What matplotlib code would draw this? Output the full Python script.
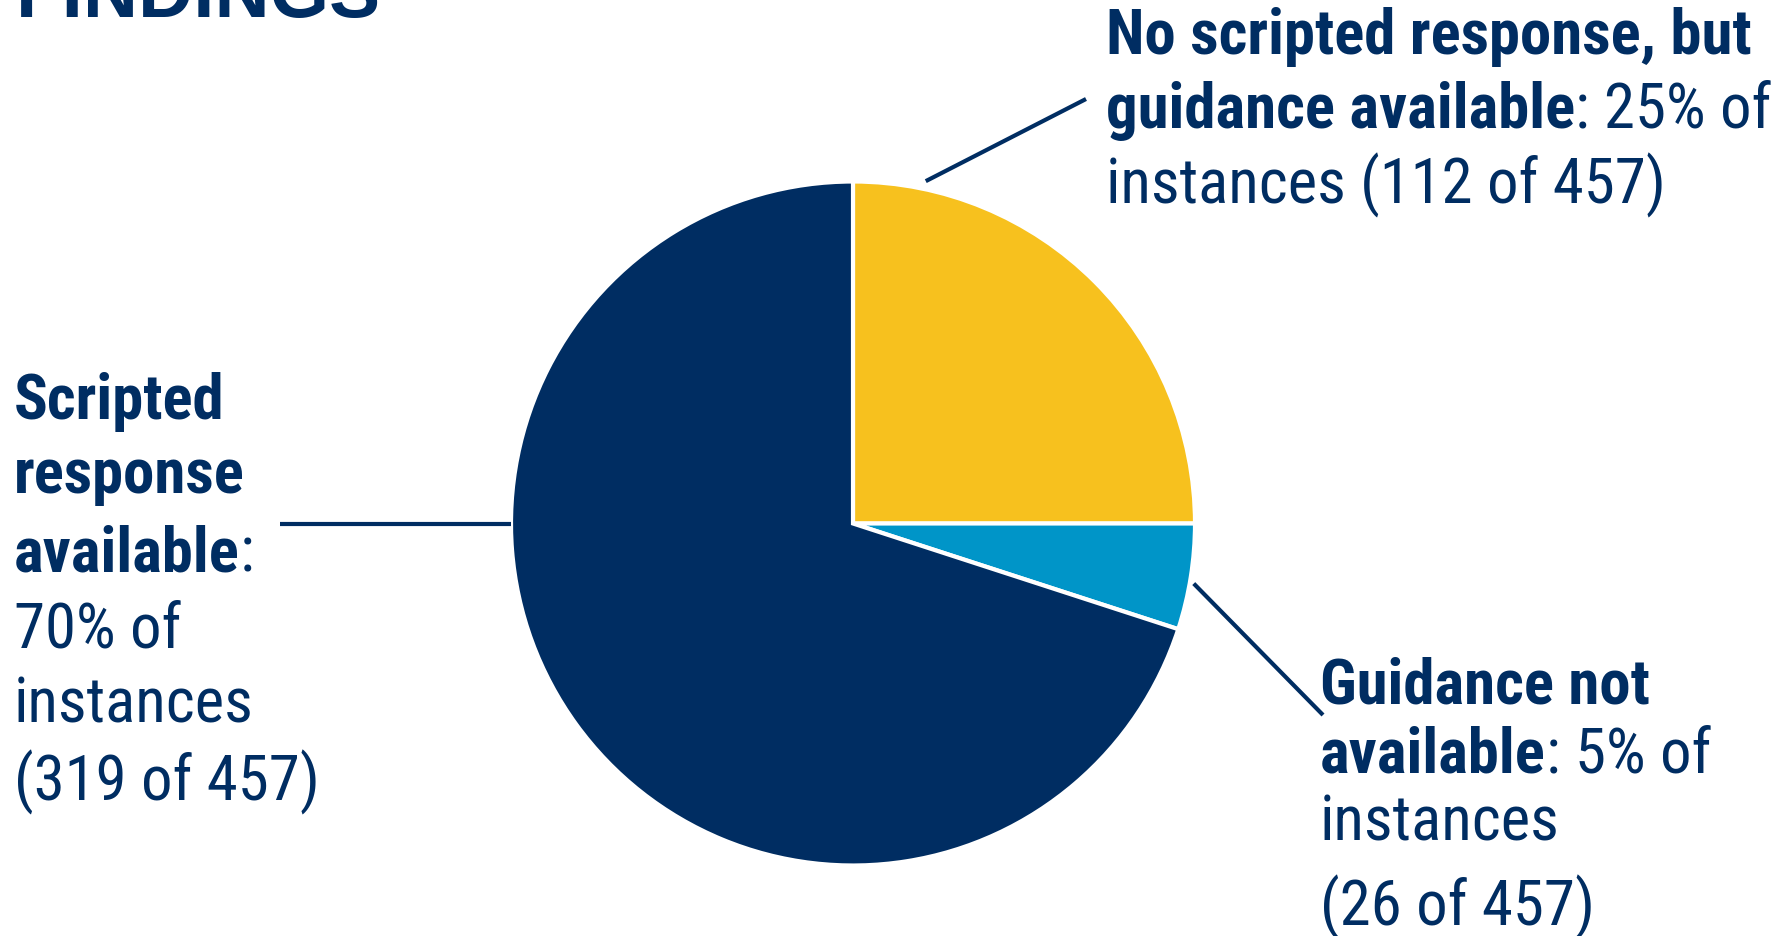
import matplotlib
matplotlib.use("Agg")
import matplotlib.pyplot as plt
from matplotlib import font_manager
import numpy as np

# data
categories = ["No scripted response, but guidance available",
              "Guidance not available",
              "Scripted response available"]
percent = [25, 5, 70]
counts = [112, 26, 319]
total = 457
colors = ["#F7C11E", "#0095C8", "#002D62"]
navy = "#002D62"

W, H = 1788, 937

# pick a narrow family that has both regular and bold files
candidates = ["Liberation Sans Narrow", "Roboto Condensed", "IBM Plex Sans Condensed",
              "Fira Sans Condensed", "Barlow Semi Condensed"]
weights = {}
for f in font_manager.fontManager.ttflist:
    weights.setdefault(f.name, set()).add(f.weight)
narrow = next((c for c in candidates
               if c in weights and 400 in weights[c] and 700 in weights[c]), "DejaVu Sans")
FONT = [narrow, "DejaVu Sans"]

fig = plt.figure(figsize=(W / 100, H / 100), dpi=100)
ax = fig.add_axes([0, 0, 1, 1])

cx, cy, r = 853, H - 524.5, 342
wedges, _ = ax.pie(percent, colors=colors, startangle=90, counterclock=False,
                   center=(cx, cy), radius=r, frame=True,
                   wedgeprops=dict(edgecolor="white", linewidth=3))
ax.set_xlim(0, W)
ax.set_ylim(0, H)
ax.axis("off")

# title (cut off at top in the original)
ax.text(16, H - 17, "FINDINGS", fontsize=55, fontweight="bold", color=navy,
        family=["Liberation Sans", "DejaVu Sans"], va="baseline", ha="left")

renderer = fig.canvas.get_renderer()

# fit size so the first bold line is as wide as in the reference (~647 px)
probe = ax.text(0, 0, "No scripted response, but", fontsize=42, family=FONT,
                fontweight="bold")
size = 42 * 647 / probe.get_window_extent(renderer=renderer).width
probe.remove()


def put_lines(x, ys, lines):
    for y, segs in zip(ys, lines):
        xx = x
        for txt, bold in segs:
            t = ax.text(xx, y - 3, txt, fontsize=size, color=navy, family=FONT,
                        fontweight="bold" if bold else "normal",
                        va="center", ha="left")
            xx += t.get_window_extent(renderer=renderer).width


top_lines = [[("No scripted response, but", True)],
             [("guidance available", True), (f": {percent[0]}% of", False)],
             [(f"instances ({counts[0]} of {total})", False)]]
put_lines(1106, [H - 34, H - 108, H - 182], top_lines)

left_lines = [[("Scripted", True)],
              [("response", True)],
              [("available", True), (":", False)],
              [(f"{percent[2]}% of", False)],
              [("instances", False)],
              [(f"({counts[2]} of {total})", False)]]
put_lines(14, [H - 399, H - 473, H - 551, H - 627, H - 703, H - 779], left_lines)

bot_lines = [[("Guidance not", True)],
             [("available", True), (f": {percent[1]}% of", False)],
             [("instances", False)],
             [(f"({counts[1]} of {total})", False)]]
put_lines(1320, [H - 684, H - 753, H - 821, H - 904], bot_lines)


# leader lines
def leader(angle_deg, dist, end):
    a = np.deg2rad(angle_deg)
    x0, y0 = cx + dist * np.cos(a), cy + dist * np.sin(a)
    ax.plot([x0, end[0]], [y0, end[1]], color=navy, linewidth=3,
            solid_capstyle="butt")


leader(78, 350, (1086, H - 100))
leader(-10, 346, (1323, H - 716))
leader(180, 342, (280, cy))

fig.savefig("out.png", dpi=100)
